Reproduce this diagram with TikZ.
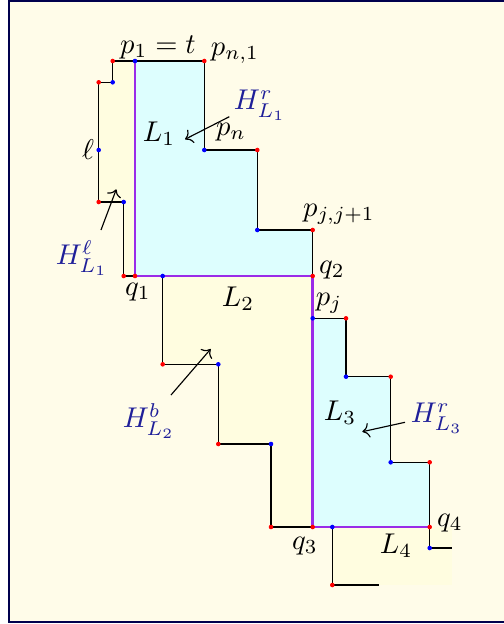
\documentclass[tikz,border=0pt]{standalone}
\usetikzlibrary{arrows.meta}

\definecolor{framenavy}{HTML}{00004D}
\definecolor{bgcream}{HTML}{FFFCE9}
\definecolor{regyellow}{HTML}{FFFDE0}
\definecolor{regcyan}{HTML}{DDFEFE}
\definecolor{splitpurple}{HTML}{9A2BE8}
\definecolor{hblue}{HTML}{1F1F99}

\begin{document}
\begin{tikzpicture}[
    x=0.35pt, y=-0.35pt,
    every node/.style={inner sep=1pt},
    wall/.style={draw, line width=0.5pt},
    split/.style={draw=splitpurple, line width=1pt},
    hlab/.style={text=hblue},
    harrow/.style={->, line width=0.4pt},
]
\useasboundingbox (0,0) rectangle (504,624);

% ===== FRAME =====
\draw[framenavy, line width=0.8pt, fill=bgcream] (9,1) rectangle (530,622);

% ===== VERTICES =====
\coordinate (top-l) at (112.7,61);
\coordinate (p1)    at (135,61);
\coordinate (pn1)   at (204.3,61);
\coordinate (ll-a)  at (112.7,82.3);
\coordinate (ll-b)  at (98.7,82.3);
\coordinate (ell)   at (98.7,150);
\coordinate (ll-c)  at (98.7,202);
\coordinate (ll-d)  at (123.7,202);
\coordinate (ll-e)  at (123.7,276);
\coordinate (q1)    at (135,276);
\coordinate (l2-a)  at (162.7,276);
\coordinate (q2)    at (312.7,276);
\coordinate (pn)    at (204.3,150);
\coordinate (l1-a)  at (257.3,150);
\coordinate (l1-b)  at (257.3,230);
\coordinate (pjj)   at (312.7,230);
\coordinate (pj)    at (312.7,318.3);
\coordinate (l3-a)  at (346,318.3);
\coordinate (l3-b)  at (346,376.7);
\coordinate (l3-c)  at (390.7,376.7);
\coordinate (l3-d)  at (390.7,462.3);
\coordinate (l3-e)  at (429.7,462.3);
\coordinate (q4)    at (429.7,527);
\coordinate (l4-a)  at (429.7,548);
\coordinate (l4-b)  at (451.7,548);
\coordinate (q3)    at (312.7,527);
\coordinate (l4-c)  at (332.3,527);
\coordinate (l4-d)  at (332.3,585);
\coordinate (l4-e)  at (379.3,585);
\coordinate (l4-f)  at (451.7,585);
\coordinate (l2-b)  at (162.7,364.3);
\coordinate (l2-c)  at (218.3,364.3);
\coordinate (l2-d)  at (218.3,444);
\coordinate (l2-e)  at (271,444);
\coordinate (l2-f)  at (271,527);

% ===== REGIONS =====
\fill[regyellow] (top-l) -- (p1) -- (q1) -- (ll-e) -- (ll-d) -- (ll-c)
    -- (ll-b) -- (ll-a) -- cycle;
\fill[regcyan] (p1) -- (pn1) -- (pn) -- (l1-a) -- (l1-b) -- (pjj) -- (q2)
    -- (q1) -- cycle;
\fill[regyellow] (l2-a) -- (l2-b) -- (l2-c) -- (l2-d) -- (l2-e) -- (l2-f)
    -- (q3) -- (q2) -- cycle;
\fill[regcyan] (pj) -- (l3-a) -- (l3-b) -- (l3-c) -- (l3-d) -- (l3-e)
    -- (q4) -- (q3) -- cycle;
\fill[regyellow] (l4-c) rectangle (l4-f);

% ===== BOUNDARY =====
\path[wall] (p1) -- (top-l) -- (ll-a) -- (ll-b) -- (ell) -- (ll-c) -- (ll-d)
    -- (ll-e) -- (q1);
\path[wall] (p1) -- (pn1) -- (pn) -- (l1-a) -- (l1-b) -- (pjj) -- (q2);
\path[wall] (l2-a) -- (l2-b) -- (l2-c) -- (l2-d) -- (l2-e) -- (l2-f) -- (q3);
\path[wall] (pj) -- (l3-a) -- (l3-b) -- (l3-c) -- (l3-d) -- (l3-e) -- (q4)
    -- (l4-a) -- (l4-b);
\path[wall] (l4-c) -- (l4-d) -- (l4-e);

% splitting segments
\path[split] (p1) -- (q1) -- (q2) -- (q3) -- (q4);

% ===== POINTS =====
\foreach \c in {top-l, pn1, ll-b, ll-c, ll-e, q1, q2, l1-a, pjj, l3-a, l3-c,
    l3-e, q4, q3, l4-d, l2-b, l2-d, l2-f}
    \fill[red] (\c) circle (0.8pt);
\foreach \c in {p1, ll-a, ell, ll-d, l2-a, pn, l1-b, pj, l3-b, l3-d, l4-a,
    l4-c, l2-c, l2-e}
    \fill[blue] (\c) circle (0.8pt);

% ===== LABELS =====
\node (p1-lab)  at (158,47)  {$p_1 = t$};
\node (pn1-lab) at (235,53)  {$p_{n,1}$};
\node (pn-lab)  at (231,132) {$p_n$};
\node (ell-lab) at (88,150)  {$\ell$};
\node (q1-lab)  at (138,292) {$q_1$};
\node (q2-lab)  at (332,270) {$q_2$};
\node (pjj-lab) at (339,214) {$p_{j,j+1}$};
\node (pj-lab)  at (329,303) {$p_j$};
\node (q3-lab)  at (305,546) {$q_3$};
\node (q4-lab)  at (450,523) {$q_4$};

\node (L1-lab) at (159,134) {$L_1$};
\node (L2-lab) at (238,299) {$L_2$};
\node (L3-lab) at (340,413) {$L_3$};
\node (L4-lab) at (396,546) {$L_4$};

% half-planes
\node[hlab] (HrL1) at (260,105) {$H^{r}_{L_1}$};
\node[hlab] (HlL1) at (82,258)  {$H^{\ell}_{L_1}$};
\node[hlab] (HbL2) at (149,421) {$H^{b}_{L_2}$};
\node[hlab] (HrL3) at (437,418) {$H^{r}_{L_3}$};

\coordinate (HrL1-tail) at (229.3,116.7);
\coordinate (HrL1-tip)  at (185,139.3);
\coordinate (HlL1-tail) at (101,230);
\coordinate (HlL1-tip)  at (116.3,189.3);
\coordinate (HbL2-tail) at (171,395);
\coordinate (HbL2-tip)  at (210.7,349);
\coordinate (HrL3-tail) at (405,422.3);
\coordinate (HrL3-tip)  at (362.3,431.7);

\draw[harrow] (HrL1-tail) -- (HrL1-tip);
\draw[harrow] (HlL1-tail) -- (HlL1-tip);
\draw[harrow] (HbL2-tail) -- (HbL2-tip);
\draw[harrow] (HrL3-tail) -- (HrL3-tip);

\end{tikzpicture}
\end{document}
